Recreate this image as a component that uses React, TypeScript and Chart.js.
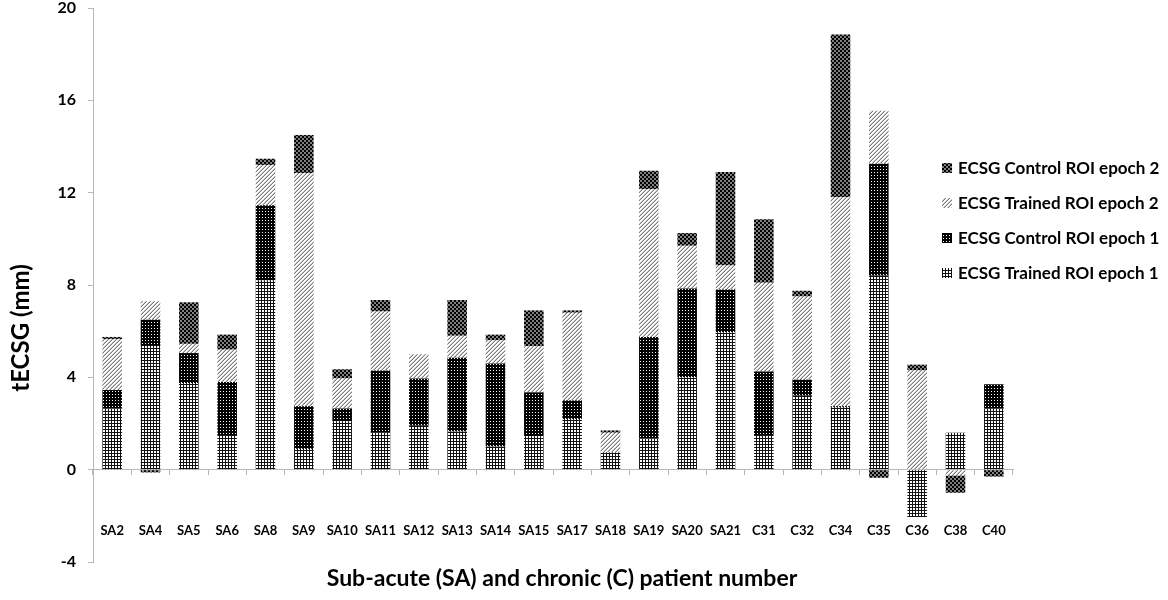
import React, { useEffect, useRef } from 'react';
import { Chart, registerables } from 'chart.js';

Chart.register(...registerables);

const FONT = 'Lato, "Open Sans", "DejaVu Sans", sans-serif';

const categories = [
  'SA2', 'SA4', 'SA5', 'SA6', 'SA8', 'SA9', 'SA10', 'SA11', 'SA12', 'SA13', 'SA14', 'SA15',
  'SA17', 'SA18', 'SA19', 'SA20', 'SA21', 'C31', 'C32', 'C34', 'C35', 'C36', 'C38', 'C40',
];

const seriesLabels = [
  'ECSG Trained ROI epoch 1',
  'ECSG Control ROI epoch 1',
  'ECSG Trained ROI epoch 2',
  'ECSG Control ROI epoch 2',
];

const trainedEpoch1 = [2.65, 5.4, 3.75, 1.5, 8.2, 0.9, 2.1, 1.6, 1.9, 1.65, 1.0, 1.45, 2.2, 0.75, 1.35, 4.0, 5.95, 1.5, 3.2, 2.7, 8.4, -2.05, 1.6, 2.65];
const controlEpoch1 = [0.8, 1.1, 1.3, 2.3, 3.25, 1.85, 0.55, 2.7, 2.05, 3.2, 3.6, 1.9, 0.8, 0, 4.4, 3.85, 1.85, 2.75, 0.7, 0.05, 4.85, 0, 0, 1.05];
const trainedEpoch2 = [2.2, 0.8, 0.4, 1.4, 1.75, 10.1, 1.3, 2.55, 1.05, 0.95, 1.0, 2.0, 3.8, 0.85, 6.4, 1.85, 1.05, 3.85, 3.6, 9.05, 2.3, 4.3, -0.25, 0];
const controlEpoch2 = [0.1, -0.12, 1.8, 0.65, 0.27, 1.65, 0.4, 0.5, 0, 1.55, 0.25, 1.55, 0.1, 0.1, 0.8, 0.55, 4.05, 2.75, 0.25, 7.05, -0.35, 0.25, -0.75, -0.3];

const yMin = -4;
const yMax = 20;
const yStep = 4;

const xTitle = 'Sub-acute (SA) and chronic (C) patient number';
const yTitle = 'tECSG (mm)';

function makePattern(size: number, draw: (ctx: CanvasRenderingContext2D) => void): CanvasPattern | string {
  const c = document.createElement('canvas');
  c.width = size;
  c.height = size;
  const g = c.getContext('2d');
  if (!g) return '#000';
  draw(g);
  const host = document.createElement('canvas').getContext('2d');
  const p = host ? host.createPattern(c, 'repeat') : null;
  return p || '#000';
}

function gridPattern() {
  return makePattern(3, (g) => {
    g.fillStyle = '#fff';
    g.fillRect(0, 0, 3, 3);
    g.fillStyle = '#111';
    g.fillRect(0, 0, 3, 1);
    g.fillRect(0, 0, 1, 3);
  });
}

function dotPattern() {
  return makePattern(3, (g) => {
    g.fillStyle = '#000';
    g.fillRect(0, 0, 3, 3);
    g.fillStyle = '#fff';
    g.fillRect(1, 1, 1, 1);
  });
}

function hatchPattern() {
  return makePattern(4, (g) => {
    g.fillStyle = '#fff';
    g.fillRect(0, 0, 4, 4);
    for (let x = 0; x < 4; x++) {
      for (let y = 0; y < 4; y++) {
        const k = (x + y) % 4;
        if (k === 3) {
          g.fillStyle = '#7a7a7a';
          g.fillRect(x, y, 1, 1);
        } else if (k === 2) {
          g.fillStyle = '#c4c4c4';
          g.fillRect(x, y, 1, 1);
        }
      }
    }
  });
}

function checkerPattern() {
  return makePattern(4, (g) => {
    g.fillStyle = '#000';
    g.fillRect(0, 0, 4, 4);
    g.fillStyle = '#808080';
    g.fillRect(0, 0, 2, 2);
    g.fillRect(2, 2, 2, 2);
  });
}

const sideLegend = {
  id: 'sideLegend',
  afterDraw(chart: any) {
    const { ctx, chartArea } = chart;
    const ds = chart.data.datasets;
    const x = chartArea.right - 71;
    let y = chartArea.top + 160;
    ctx.save();
    ctx.font = `bold 17px ${FONT}`;
    ctx.textBaseline = 'middle';
    ctx.textAlign = 'left';
    for (let i = ds.length - 1; i >= 0; i--) {
      ctx.fillStyle = ds[i].backgroundColor;
      ctx.fillRect(x, y - 5, 10, 10);
      ctx.fillStyle = '#000';
      ctx.fillText(ds[i].label, x + 16, y + 1);
      y += 35;
    }
    ctx.restore();
  },
};

const axisTitles = {
  id: 'axisTitles',
  afterDraw(chart: any) {
    const { ctx, chartArea } = chart;
    ctx.save();
    ctx.fillStyle = '#000';
    ctx.textAlign = 'center';
    ctx.textBaseline = 'middle';
    // x axis title
    ctx.font = `bold 23px ${FONT}`;
    ctx.fillText(xTitle, (chartArea.left + chartArea.right) / 2 + 9, chartArea.bottom + 17);
    // y axis title
    ctx.translate(21, (chartArea.top + chartArea.bottom) / 2 + 43);
    ctx.rotate(-Math.PI / 2);
    ctx.font = `bold 24px ${FONT}`;
    ctx.fillText(yTitle, 0, 0);
    ctx.restore();
  },
};

export default function App() {
  const canvasRef = useRef<HTMLCanvasElement | null>(null);

  useEffect(() => {
    document.body.style.margin = '0';
    document.body.style.overflow = 'hidden';
    const canvas = canvasRef.current;
    if (!canvas) return;

    const fills = [gridPattern(), dotPattern(), hatchPattern(), checkerPattern()];
    const values = [trainedEpoch1, controlEpoch1, trainedEpoch2, controlEpoch2];

    const chart = new Chart(canvas, {
      type: 'bar',
      data: {
        labels: categories,
        datasets: values.map((v, i) => ({
          label: seriesLabels[i],
          data: v,
          backgroundColor: fills[i] as any,
          borderWidth: 0,
          barPercentage: 0.51,
          categoryPercentage: 1.0,
        })),
      },
      options: {
        animation: false,
        responsive: true,
        maintainAspectRatio: false,
        devicePixelRatio: 1,
        layout: { padding: { top: 0, right: 155, bottom: 38, left: 0 } },
        plugins: {
          legend: { display: false },
          tooltip: { enabled: false },
        },
        scales: {
          x: {
            stacked: true,
            position: { y: 0 } as any,
            grid: {
              display: true,
              drawOnChartArea: false,
              drawTicks: true,
              tickLength: 5,
              color: '#b8b8b8',
              offset: true,
            },
            border: { display: true, color: '#b8b8b8', width: 1 },
            ticks: {
              padding: 48,
              color: '#000',
              autoSkip: false,
              maxRotation: 0,
              font: { family: FONT, size: 13, weight: 'bold' },
            },
          },
          y: {
            stacked: true,
            min: yMin,
            max: yMax,
            grid: {
              display: true,
              drawOnChartArea: false,
              drawTicks: true,
              tickLength: 5,
              color: '#b8b8b8',
            },
            border: { display: true, color: '#b8b8b8', width: 1 },
            ticks: {
              stepSize: yStep,
              padding: 12,
              color: '#000',
              font: { family: FONT, size: 16, weight: 'bold' },
            },
            afterFit: (scale: any) => {
              scale.width = 93;
              scale.paddingTop = 8;
              scale.paddingBottom = 0;
            },
          },
        },
      },
      plugins: [sideLegend, axisTitles],
    });

    return () => chart.destroy();
  }, []);

  return (
    <div style={{ position: 'relative', width: '1168px', height: '600px' }}>
      <canvas ref={canvasRef} />
    </div>
  );
}
